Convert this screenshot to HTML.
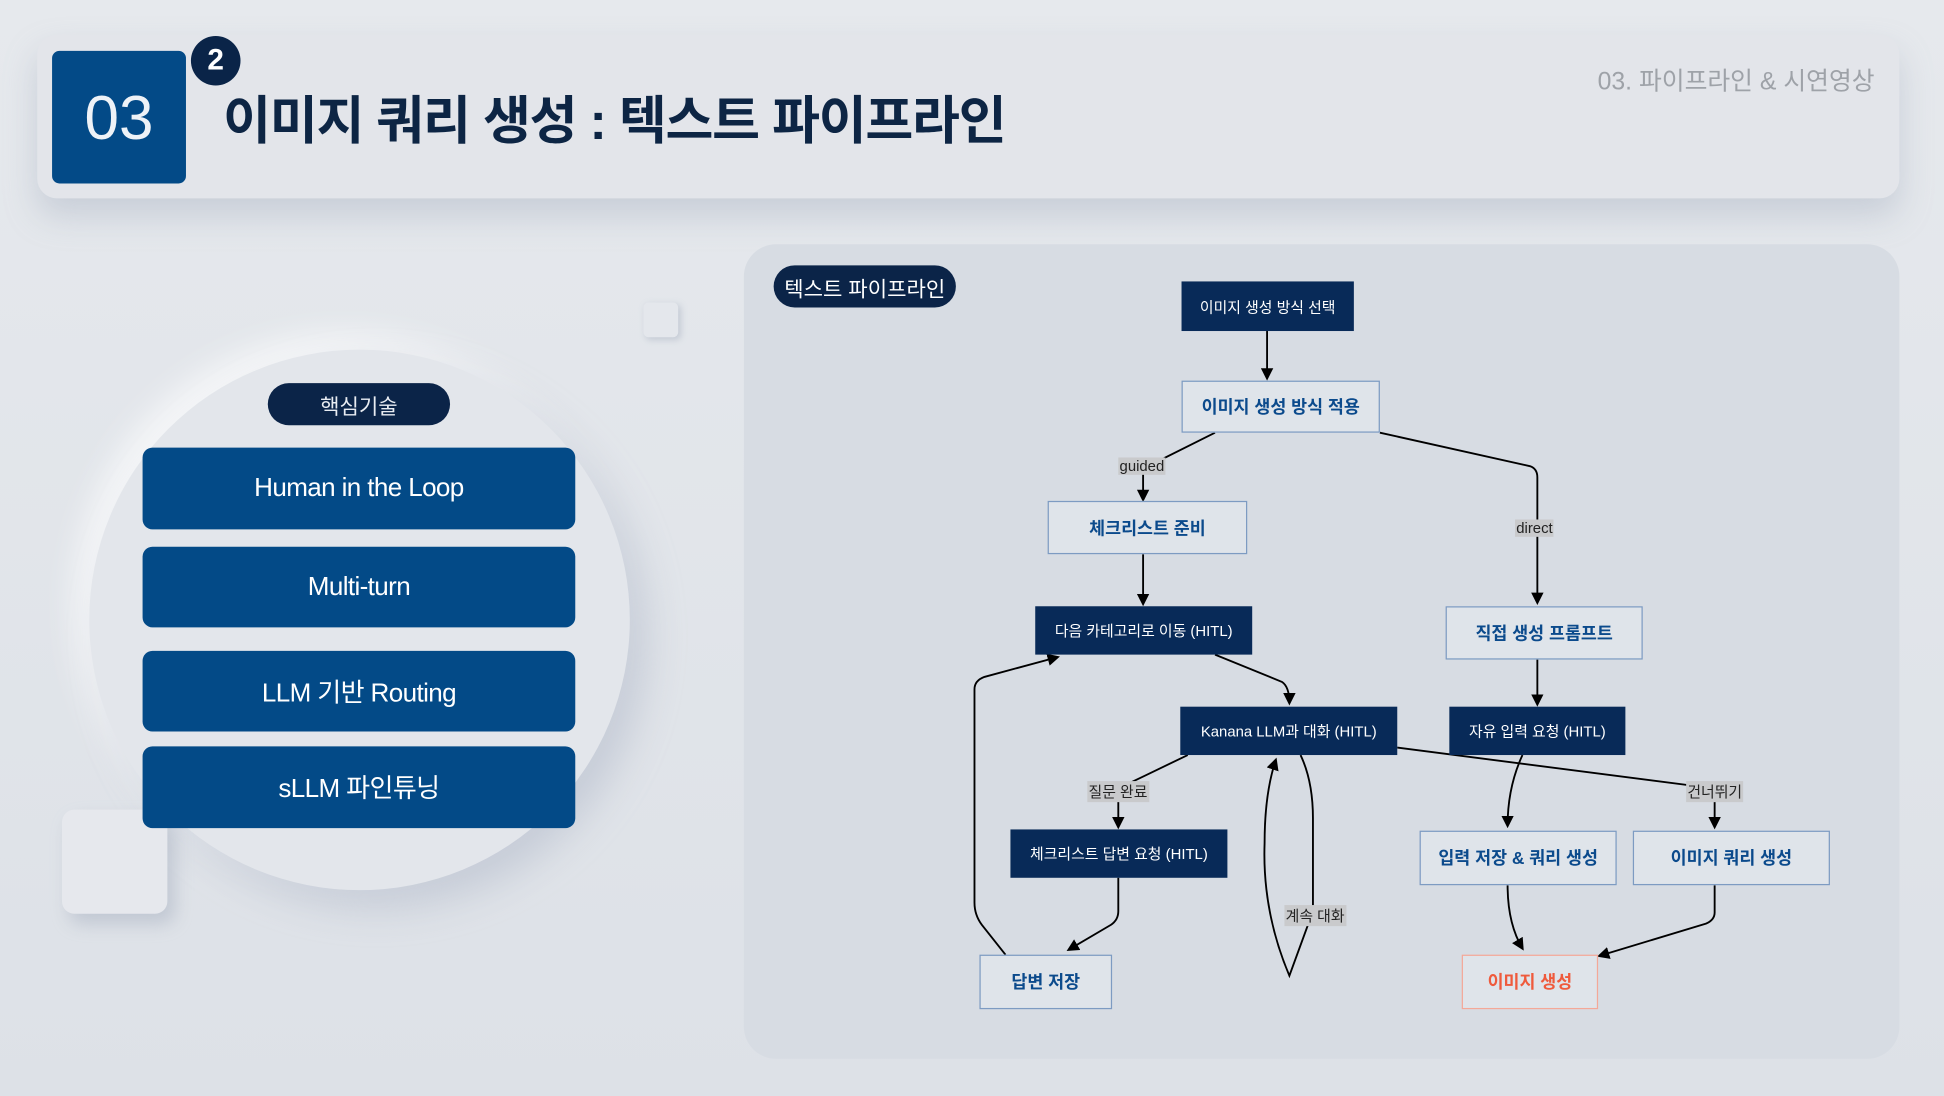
<!DOCTYPE html>
<html><head><meta charset="utf-8"><style>
html,body{margin:0;padding:0;width:1944px;height:1096px;overflow:hidden;background:#dfe3e8;}
#w{position:absolute;left:0;top:0;width:1568px;height:884px;transform:scale(1.23980);transform-origin:0 0;font-family:"Liberation Sans","Noto Sans CJK KR",sans-serif;background:linear-gradient(180deg,#e6e9ed,#dde1e7);}
.a{position:absolute;box-sizing:border-box;}
.c{display:flex;align-items:center;justify-content:center;text-align:center;}
.btn{left:115px;width:349px;background:#034a87;border-radius:8px;color:#fff;font-size:21px;letter-spacing:-0.5px;}
.dk{background:#082a58;color:#fff;font-size:12px;}
.lt{background:#dfe4ea;border:1px solid #7d9bc2;color:#0b4a8c;font-size:14px;font-weight:bold;}
.lb{background:#c9cacc;color:#222;font-size:12px;padding:0 1px;}
</style></head><body><div id="w">
<div class="a" style="left:30px;top:28px;width:1502px;height:132px;background:#e3e5ea;border-radius:16px;box-shadow:0 14px 26px rgba(150,160,180,0.35);"></div>
<div class="a c" style="left:42px;top:41px;width:108px;height:107px;background:#034a87;border-radius:6px;color:#eef2f7;font-size:50px;">03</div>
<div class="a c" style="left:154px;top:29px;width:40px;height:40px;background:#0a2448;border-radius:50%;color:#fff;font-size:24px;font-weight:bold;">2</div>
<div class="a" style="left:180px;top:64px;color:#0d2544;font-size:42px;font-weight:bold;letter-spacing:-1px;white-space:nowrap;">이미지 쿼리 생성 : 텍스트 파이프라인</div>
<div class="a" style="right:56px;top:49px;color:#9ea2a8;font-size:20px;white-space:nowrap;">03. 파이프라인 &amp; 시연영상</div>

<div class="a" style="left:72px;top:282px;width:436px;height:436px;border-radius:50%;background:#e3e6eb;box-shadow:14px 14px 30px rgba(160,170,190,0.4),-12px -12px 26px rgba(255,255,255,0.7);"></div>
<div class="a" style="left:519px;top:244px;width:28px;height:28px;border-radius:4px;background:#e4e7ec;box-shadow:2px 2px 5px rgba(150,160,180,0.4);"></div>
<div class="a" style="left:50px;top:653px;width:85px;height:84px;border-radius:10px;background:#e6e8ed;box-shadow:6px 8px 14px rgba(150,160,180,0.4);"></div>
<div class="a c" style="left:216px;top:309px;width:147px;height:34px;border-radius:17px;background:#0b2448;color:#e8ecf2;font-size:17px;">핵심기술</div>
<div class="a c btn" style="top:361px;height:66px;">Human in the Loop</div>
<div class="a c btn" style="top:441px;height:65px;">Multi-turn</div>
<div class="a c btn" style="top:525px;height:65px;">LLM 기반 Routing</div>
<div class="a c btn" style="top:602px;height:66px;">sLLM 파인튜닝</div>

<div class="a" style="left:600px;top:197px;width:932px;height:657px;border-radius:26px;background:#d7dce3;"></div>
<div class="a c" style="left:624px;top:214px;width:147px;height:34px;border-radius:17px;background:#0b2448;color:#fff;font-size:17px;">텍스트 파이프라인</div>

<svg class="a" style="left:0;top:0" width="1568" height="884">
<defs><marker id="m" markerWidth="10" markerHeight="10" refX="8" refY="5" orient="auto" markerUnits="userSpaceOnUse"><path d="M0,0 L10,5 L0,10z" fill="#000"/></marker></defs>
<g stroke="#000" stroke-width="1.5" fill="none" marker-end="url(#m)">
<path d="M1022,267 V305"/>
<path d="M980,349 L922,378 V403"/>
<path d="M1113,349 L1234,376 Q1240,378 1240,385 V486"/>
<path d="M922,447 V487"/>
<path d="M980,528 L1034,550 Q1040,554 1040,567"/>
<path d="M1240,532 V568"/>
<path d="M958,609 L902,636 V667"/>
<path d="M1127,603 L1383,636 V667"/>
<path d="M1049,609 Q1059,630 1059,660 V735 L1040,787 Q1018,735 1020,680 Q1020,640 1029,613"/>
<path d="M1228,609 Q1216,635 1216,666"/>
<path d="M902,708 V735 Q902,742 896,746 L862,766"/>
<path d="M811,770 L792,746 Q786,738 786,728 V556 Q786,549 794,546 L853,530"/>
<path d="M1216,714 Q1216,745 1228,765"/>
<path d="M1383,714 V736 Q1383,742 1376,745 L1290,771"/>
</g>
</svg>
<div class="a lb" style="left:902px;top:369px;">guided</div>
<div class="a lb" style="left:1222px;top:419px;">direct</div>
<div class="a lb" style="left:877px;top:630px;">질문 완료</div>
<div class="a lb" style="left:1360px;top:630px;">건너뛰기</div>
<div class="a lb" style="left:1036px;top:730px;">계속 대화</div>

<div class="a c dk" style="left:953px;top:227px;width:139px;height:40px;">이미지 생성 방식 선택</div>
<div class="a c lt" style="left:953px;top:307px;width:160px;height:42px;">이미지 생성 방식 적용</div>
<div class="a c lt" style="left:845px;top:404px;width:161px;height:43px;">체크리스트 준비</div>
<div class="a c dk" style="left:835px;top:489px;width:175px;height:39px;">다음 카테고리로 이동 (HITL)</div>
<div class="a c lt" style="left:1166px;top:489px;width:159px;height:43px;">직접 생성 프롬프트</div>
<div class="a c dk" style="left:952px;top:570px;width:175px;height:39px;">Kanana LLM과 대화 (HITL)</div>
<div class="a c dk" style="left:1169px;top:570px;width:142px;height:39px;">자유 입력 요청 (HITL)</div>
<div class="a c dk" style="left:815px;top:669px;width:175px;height:39px;">체크리스트 답변 요청 (HITL)</div>
<div class="a c lt" style="left:1145px;top:670px;width:159px;height:44px;">입력 저장 &amp; 쿼리 생성</div>
<div class="a c lt" style="left:1317px;top:670px;width:159px;height:44px;">이미지 쿼리 생성</div>
<div class="a c lt" style="left:790px;top:770px;width:107px;height:44px;">답변 저장</div>
<div class="a c lt" style="left:1179px;top:770px;width:110px;height:44px;border-color:#f4a898;color:#ef5a3c;">이미지 생성</div>
</div></body></html>
